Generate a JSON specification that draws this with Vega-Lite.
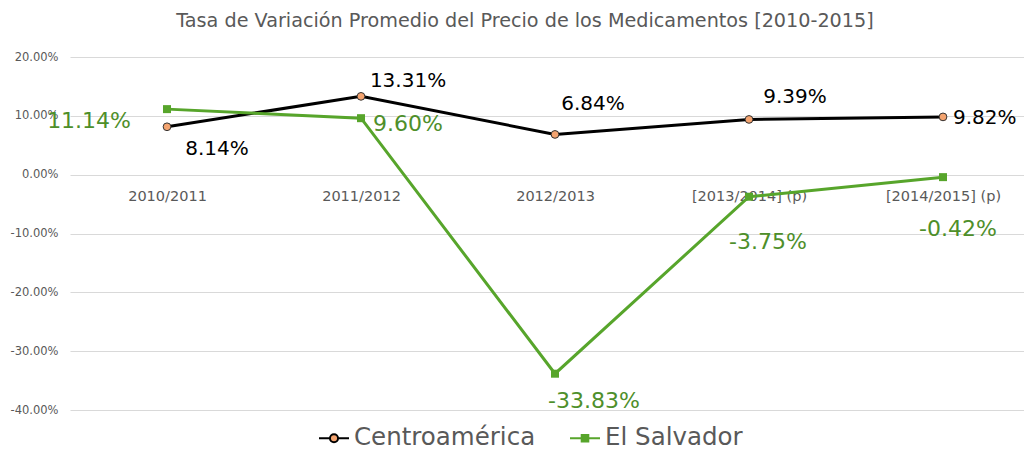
{
  "$schema": "https://vega.github.io/schema/vega-lite/v6.json",
  "autosize": {"type": "none"},
  "padding": {"left": 70, "top": 57, "right": 0, "bottom": 48},
  "width": 954,
  "height": 353,
  "background": "white",
  "config": {"view": {"stroke": null}, "font": "DejaVu Sans",
    "locale": {"number": {"decimal": ".", "thousands": ",", "grouping": [3], "currency": ["$", ""], "minus": "-"}}},
  "title": {"text": "Tasa de Variación Promedio del Precio de los Medicamentos [2010-2015]", "fontSize": 19.2, "fontWeight": "normal", "color": "#595959", "dx": -22, "offset": 20},
  "data": {"values": [
    {"periodo": "2010/2011", "serie": "Centroamérica", "v": 0.0814},
    {"periodo": "2011/2012", "serie": "Centroamérica", "v": 0.1331},
    {"periodo": "2012/2013", "serie": "Centroamérica", "v": 0.0684},
    {"periodo": "[2013/2014] (p)", "serie": "Centroamérica", "v": 0.0939},
    {"periodo": "[2014/2015] (p)", "serie": "Centroamérica", "v": 0.0982},
    {"periodo": "2010/2011", "serie": "El Salvador", "v": 0.1114},
    {"periodo": "2011/2012", "serie": "El Salvador", "v": 0.0960},
    {"periodo": "2012/2013", "serie": "El Salvador", "v": -0.3383},
    {"periodo": "[2013/2014] (p)", "serie": "El Salvador", "v": -0.0375},
    {"periodo": "[2014/2015] (p)", "serie": "El Salvador", "v": -0.0042}
  ]},
  "encoding": {
    "x": {"field": "periodo", "type": "ordinal", "sort": null,
      "scale": {"type": "point", "domain": ["2010/2011", "2011/2012", "2012/2013", "[2013/2014] (p)", "[2014/2015] (p)"], "padding": 0.4588, "align": 0.545},
      "axis": {"title": null, "orient": "bottom", "offset": -235, "domain": false, "ticks": false, "labelAngle": 0, "labelPadding": 14, "labelFontSize": 14.5, "labelColor": "#595959", "grid": false}},
    "y": {"field": "v", "type": "quantitative",
      "scale": {"domain": [-0.4, 0.2], "nice": false, "zero": false},
      "axis": {"title": null, "values": [-0.4, -0.3, -0.2, -0.1, 0, 0.1, 0.2], "format": ".2%", "domain": false, "ticks": false, "labelPadding": 12, "labelFontSize": 11.5, "labelColor": "#595959", "gridColor": "#d9d9d9", "gridWidth": 1}}
  },
  "layer": [
    {"mark": {"type": "line", "strokeWidth": 3},
     "encoding": {"color": {"field": "serie", "type": "nominal",
       "scale": {"domain": ["Centroamérica", "El Salvador"], "range": ["#000000", "#57A52B"]},
       "legend": {"orient": "none", "legendX": 248, "legendY": 365, "direction": "horizontal", "title": null,
         "labelFontSize": 24.5, "labelColor": "#595959", "labelOffset": 4, "labelLimit": 400, "columnPadding": 30,
         "symbolSize": 900, "symbolStrokeWidth": 2,
         "encode": {"symbols": {"update": {
           "shape": {"signal": "datum.value == 'Centroamérica' ? 'M-1,0L-0.27,0M0.27,0L1,0M-0.27,0A0.27,0.27 0 1,0 0.27,0A0.27,0.27 0 1,0 -0.27,0Z' : 'M-1,0L-0.22,0M0.22,0L1,0M-0.22,-0.22H0.22V0.22H-0.22Z'"},
           "fill": {"signal": "datum.value == 'Centroamérica' ? '#F4A470' : '#57A52B'"},
           "fillOpacity": {"value": 1}
         }}}}}}},
    {"mark": {"type": "point", "shape": "circle", "filled": true, "size": 60, "fill": "#F4A470", "stroke": "#333333", "strokeWidth": 1, "opacity": 1},
     "transform": [{"filter": "datum.serie == 'Centroamérica'"}]},
    {"mark": {"type": "point", "shape": "square", "filled": true, "size": 64, "color": "#57A52B", "opacity": 1},
     "transform": [{"filter": "datum.serie == 'El Salvador'"}]},
    {"transform": [{"filter": "datum.serie == 'Centroamérica' && datum.periodo == '2010/2011'"}],
     "mark": {"type": "text", "fontSize": 20, "color": "#000000", "dx": 50, "dy": 22, "baseline": "middle"},
     "encoding": {"text": {"field": "v", "format": ".2%"}}},
    {"transform": [{"filter": "datum.serie == 'Centroamérica' && datum.periodo == '2011/2012'"}],
     "mark": {"type": "text", "fontSize": 20, "color": "#000000", "dx": 47, "dy": -15, "baseline": "middle"},
     "encoding": {"text": {"field": "v", "format": ".2%"}}},
    {"transform": [{"filter": "datum.serie == 'Centroamérica' && datum.periodo == '2012/2013'"}],
     "mark": {"type": "text", "fontSize": 20, "color": "#000000", "dx": 38, "dy": -30, "baseline": "middle"},
     "encoding": {"text": {"field": "v", "format": ".2%"}}},
    {"transform": [{"filter": "datum.serie == 'Centroamérica' && datum.periodo == '[2013/2014] (p)'"}],
     "mark": {"type": "text", "fontSize": 20, "color": "#000000", "dx": 46, "dy": -22, "baseline": "middle"},
     "encoding": {"text": {"field": "v", "format": ".2%"}}},
    {"transform": [{"filter": "datum.serie == 'Centroamérica' && datum.periodo == '[2014/2015] (p)'"}],
     "mark": {"type": "text", "fontSize": 20, "color": "#000000", "dx": 10, "dy": 1, "align": "left", "baseline": "middle"},
     "encoding": {"text": {"field": "v", "format": ".2%"}}},
    {"transform": [{"filter": "datum.serie == 'El Salvador' && datum.periodo == '2010/2011'"}],
     "mark": {"type": "text", "fontSize": 22, "color": "#4E8F2A", "dx": -36, "dy": 12, "align": "right", "baseline": "middle"},
     "encoding": {"text": {"field": "v", "format": ".2%"}}},
    {"transform": [{"filter": "datum.serie == 'El Salvador' && datum.periodo == '2011/2012'"}],
     "mark": {"type": "text", "fontSize": 22, "color": "#4E8F2A", "dx": 12, "dy": 6, "align": "left", "baseline": "middle"},
     "encoding": {"text": {"field": "v", "format": ".2%"}}},
    {"transform": [{"filter": "datum.serie == 'El Salvador' && datum.periodo == '2012/2013'"}],
     "mark": {"type": "text", "fontSize": 22, "color": "#4E8F2A", "dx": 39, "dy": 27, "baseline": "middle"},
     "encoding": {"text": {"field": "v", "format": ".2%"}}},
    {"transform": [{"filter": "datum.serie == 'El Salvador' && datum.periodo == '[2013/2014] (p)'"}],
     "mark": {"type": "text", "fontSize": 22, "color": "#4E8F2A", "dx": 19, "dy": 45, "baseline": "middle"},
     "encoding": {"text": {"field": "v", "format": ".2%"}}},
    {"transform": [{"filter": "datum.serie == 'El Salvador' && datum.periodo == '[2014/2015] (p)'"}],
     "mark": {"type": "text", "fontSize": 22, "color": "#4E8F2A", "dx": 15, "dy": 52, "baseline": "middle"},
     "encoding": {"text": {"field": "v", "format": ".2%"}}}
  ]
}
